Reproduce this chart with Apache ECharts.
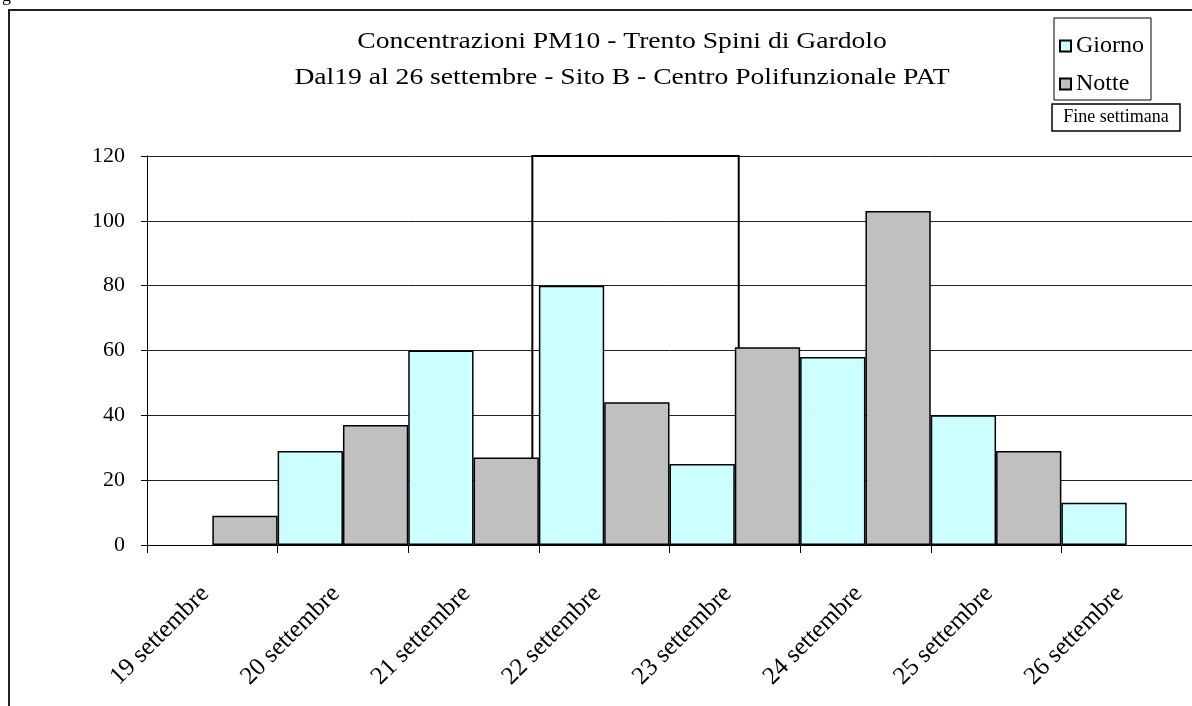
<!DOCTYPE html>
<html>
<head>
<meta charset="utf-8">
<script src="https://cdn.jsdelivr.net/npm/echarts@6/dist/echarts.min.js"></script>
<style>
html,body{margin:0;padding:0;background:#fff;}
#c{width:1192px;height:706px;}
</style>
</head>
<body>
<div id="c"></div>
<script>
const days = ['19 settembre','20 settembre','21 settembre','22 settembre','23 settembre','24 settembre','25 settembre','26 settembre'];
const giorno = [null, 29, 60, 80, 25, 58, 40, 13];
const notte = [9, 37, 27, 44, 61, 103, 29, null];
const yTicks = [0, 20, 40, 60, 80, 100, 120];
const weekend = [2.95, 4.53];
const titleLines = ['Concentrazioni PM10 - Trento Spini di Gardolo', 'Dal19 al 26 settembre - Sito B - Centro Polifunzionale PAT'];

const F = "'Liberation Serif', 'DejaVu Serif', serif";
const chart = echarts.init(document.getElementById('c'));
chart.setOption({
  animation: false,
  backgroundColor: '#fff',
  grid: {left: 147, top: 156, width: 1050, height: 389, containLabel: false},
  legend: {
    data: ['Giorno', 'Notte'],
    orient: 'vertical',
    right: 41, top: 18,
    icon: 'rect', itemWidth: 11, itemHeight: 11, itemGap: 14,
    padding: [16, 7, 4, 5],
    borderColor: '#000', borderWidth: 1, backgroundColor: '#fff',
    textStyle: {fontFamily: F, fontSize: 24, color: '#000', padding: [0, 0, 0, 0]}
  },
  xAxis: [{
    type: 'category', data: days, boundaryGap: true,
    axisLine: {lineStyle: {color: '#000', width: 1}},
    axisTick: {show: true, length: 8, lineStyle: {color: '#000'}},
    axisLabel: {rotate: 45, margin: 38, padding: [0, 10, 0, 0], fontFamily: F, fontSize: 25, color: '#000'},
    splitLine: {show: false}
  }, {
    type: 'value', min: 0, max: 8, show: false
  }],
  yAxis: {
    type: 'value', min: yTicks[0], max: yTicks[yTicks.length - 1], interval: yTicks[1] - yTicks[0],
    axisLine: {show: true, lineStyle: {color: '#000'}},
    axisTick: {show: true, length: 6, lineStyle: {color: '#000'}},
    axisLabel: {fontFamily: F, fontSize: 22, color: '#000', margin: 22},
    splitLine: {show: true, lineStyle: {color: '#222', width: 1}}
  },
  series: [{
    name: 'Giorno', type: 'bar', data: giorno,
    barGap: '0%', barCategoryGap: '0%',
    itemStyle: {color: '#CCFFFF', borderColor: '#000', borderWidth: 1.5}
  }, {
    name: 'Notte', type: 'bar', data: notte,
    barGap: '0%', barCategoryGap: '0%',
    itemStyle: {color: '#C0C0C0', borderColor: '#000', borderWidth: 1.5}
  }, {
    name: 'Fine settimana', type: 'line', xAxisIndex: 1, data: [],
    markArea: {
      silent: true,
      itemStyle: {color: 'rgba(0,0,0,0)', borderColor: '#000', borderWidth: 2},
      data: [[{xAxis: weekend[0], yAxis: 0}, {xAxis: weekend[1], yAxis: 120}]]
    }
  }],
  graphic: [
    {type: 'rect', shape: {x: 9, y: 10, width: 1400, height: 900}, style: {fill: 'none', stroke: '#222', lineWidth: 2}, z: 0, silent: true},
    {type: 'text', style: {x: 2, y: 5, text: 'g', font: "18px 'Liberation Serif'", fill: '#000', verticalAlign: 'bottom'}},
    {type: 'text', x: 622, y: 42, scaleX: 1.15, style: {x: 0, y: 0, text: titleLines[0], font: "24px 'Liberation Serif'", fill: '#000', align: 'center', verticalAlign: 'middle'}},
    {type: 'text', x: 622, y: 78, scaleX: 1.15, style: {x: 0, y: 0, text: titleLines[1], font: "24px 'Liberation Serif'", fill: '#000', align: 'center', verticalAlign: 'middle'}},
    {type: 'rect', shape: {x: 1052, y: 104, width: 128, height: 27}, style: {fill: '#fff', stroke: '#000', lineWidth: 1.5}},
    {type: 'text', style: {x: 1116, y: 117.5, text: 'Fine settimana', font: "18px 'Liberation Serif'", fill: '#000', align: 'center', verticalAlign: 'middle'}}
  ]
});
</script>
</body>
</html>
